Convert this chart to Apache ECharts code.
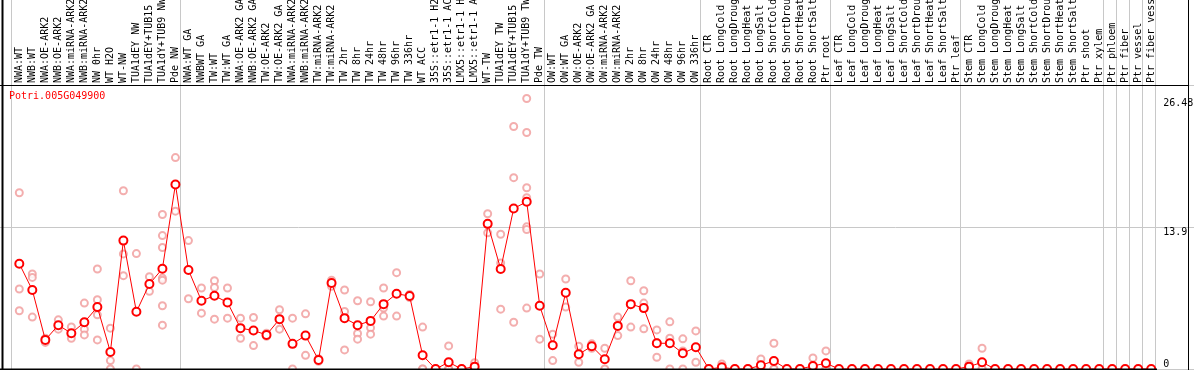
<!DOCTYPE html>
<html><head><meta charset="utf-8">
<script src="https://cdn.jsdelivr.net/npm/echarts@6/dist/echarts.min.js"></script>
<style>html,body{margin:0;padding:0;background:#fff}#c{width:1194px;height:370px}</style>
</head><body><div id="c"></div>
<script>
const geneName = 'Potri.005G049900';
const categories = [
 'NWA:WT','NWB:WT','NWA:OE-ARK2','NWB:OE-ARK2','NWA:miRNA-ARK2','NWB:miRNA-ARK2','NW 0hr','WT H2O','WT-NW','TUA1dEY NW','TUA1dEY+TUB15 NW','TUA1dY+TUB9 NW','Pde NW',
 'NWA:WT GA','NWBWT GA','TW:WT','TW:WT GA','NWA:OE-ARK2 GA','NWB:OE-ARK2 GA','TW:OE-ARK2','TW:OE-ARK2 GA','NWA:miRNA-ARK2','NWB:miRNA-ARK2','TW:miRNA-ARK2','TW:miRNA-ARK2',
 'TW 2hr','TW 8hr','TW 24hr','TW 48hr','TW 96hr','TW 336hr','WT ACC','35S::etr1-1 H2O','35S::etr1-1 ACC','LMX5::etr1-1 H2O','LMX5::etr1-1 ACC','WT-TW','TUA1dEY TW','TUA1dEY+TUB15 TW','TUA1dY+TUB9 TW','Pde TW',
 'OW:WT','OW:WT GA','OW:OE-ARK2','OW:OE-ARK2 GA','OW:miRNA-ARK2','OW:miRNA-ARK2','OW 2hr','OW 8hr','OW 24hr','OW 48hr','OW 96hr','OW 336hr',
 'Root CTR','Root LongCold','Root LongDrought','Root LongHeat','Root LongSalt','Root ShortCold','Root ShortDrought','Root ShortHeat','Root ShortSalt','Ptr root',
 'Leaf CTR','Leaf LongCold','Leaf LongDrought','Leaf LongHeat','Leaf LongSalt','Leaf ShortCold','Leaf ShortDrought','Leaf ShortHeat','Leaf ShortSalt','Ptr leaf',
 'Stem CTR','Stem LongCold','Stem LongDrought','Stem LongHeat','Stem LongSalt','Stem ShortCold','Stem ShortDrought','Stem ShortHeat','Stem ShortSalt','Ptr shoot',
 'Ptr xylem','Ptr phloem','Ptr fiber','Ptr vessel','Ptr fiber vessel'
];
const meanValues = [
 10.31,7.73,2.85,4.29,3.5,4.58,6.06,1.67,12.57,5.6,8.32,9.82,18.07,
 9.69,6.68,7.17,6.52,4.0,3.77,3.34,4.88,2.46,3.27,0.88,8.42,
 4.98,4.29,4.71,6.35,7.37,7.14,1.34,0,0.66,0,0.23,14.21,9.79,15.72,16.37,6.19,
 2.33,7.47,1.44,2.23,0.95,4.22,6.35,5.96,2.52,2.52,1.54,2.13,
 0,0.16,0,0,0.36,0.79,0,0,0.3,0.56,
 0,0,0,0,0,0,0,0,0,0,
 0.23,0.66,0,0,0,0,0,0,0,0,
 0,0,0,0,0
];
const replicates = [
 [17.26,7.83,5.7],[9.3,8.97,5.08],[3.0,2.75,2.6],[4.81,3.9],[4.12,3.01],[6.45,3.9,3.34],[9.79,6.78,5.3,2.85],[4.0,0.82,0],[17.45,11.27,9.14],[11.3,0],[9.04,7.6],[15.13,13.06,11.89,8.9,8.7,6.19,4.29],[20.7,15.45],
 [12.57,6.88],[7.93,5.47],[8.64,7.99,4.88],[7.93,4.98],[4.98,3.01],[5.04,2.29],[3.5,3.2],[5.8,3.9],[4.98,0],[5.4,1.34],[1.0,0.76],[8.7,8.1],
 [7.73,5.63,1.87],[6.68,3.47,2.92],[6.58,4.03,3.41],[7.93,5.96,5.18],[9.43,5.18],[7.3,7.0],[4.1,0,0],[0,0],[2.26,0,0],[0,0],[0.62,0,0],[15.2,13.33],[13.19,10.38,5.86],[23.74,18.73,4.58],[26.48,23.15,17.75,16.77,13.92,13.65,5.96],[9.3,2.92],
 [3.41,0.82],[8.81,6.06],[2.23,0.66],[2.46,2.03],[2.03,0],[5.08,3.27],[8.64,4.1],[7.66,6.45,3.93],[3.83,2.6,1.15],[4.62,3.01,0],[2.95,1.77,0],[3.73,0.66],
 [0,0],[0.5,0,0],[0,0],[0,0],[0.98,0,0],[2.52,0,0],[0,0],[0,0],[1.08,0,0],[1.77,0,0],
 [],[],[],[],[],[],[],[],[],[],
 [0.49,0.2,0],[2.03,0,0],[],[],[],[],[],[],[],[],
 [],[],[],[],[]
];
const groupStarts = [0,13,41,53,63,73,84,85,86,87];
const yTickLabels = [13.9, 26.48];
const yZeroLabel = [0];

const allVals = meanValues.concat(...replicates);
const dataMax = Math.max(...allVals);
const yMax = dataMax * 1.05;

const scatterData = [];
replicates.forEach((arr, i) => arr.forEach(v => scatterData.push([i, v])));

const font = 'DejaVu Sans Mono';
const gridL = 10.8, gridR = 38.3, markShift = 2;
const splitFn = (idx) => groupStarts.indexOf(idx) >= 0;
const gridLine = {color: '#c8c8c8', width: 1};
const labelFont = {fontSize: 10, fontFamily: font, color: '#000'};

const chart = echarts.init(document.getElementById('c'), null, {renderer: 'canvas'});
chart.setOption({
  animation: false,
  backgroundColor: '#fff',
  title: {text: geneName, left: 9, top: 91, padding: 0,
    textStyle: {color: '#ff0000', fontSize: 10, fontFamily: font, fontWeight: 'normal'}},
  grid: [
    {left: gridL + markShift, right: gridR - markShift, top: 85, bottom: 1, outerBoundsMode: 'none', containLabel: false},
    {left: gridL, right: gridR, top: 0, bottom: 1, outerBoundsMode: 'none', containLabel: false},
    {left: 0, right: 0, top: 85, bottom: 1, outerBoundsMode: 'none', containLabel: false}
  ],
  xAxis: [
    {gridIndex: 0, type: 'category', position: 'top', data: categories, boundaryGap: true,
      axisLine: {show: false}, axisTick: {show: false},
      axisLabel: Object.assign({rotate: 90, interval: 0, margin: 2, hideOverlap: false}, labelFont),
      splitLine: {show: false}},
    {gridIndex: 1, type: 'category', data: categories, boundaryGap: true,
      axisLine: {show: false}, axisTick: {show: false}, axisLabel: {show: false},
      splitLine: {show: true, interval: splitFn, lineStyle: gridLine}},
    {gridIndex: 2, type: 'value', show: false}
  ],
  yAxis: [
    {gridIndex: 0, type: 'value', position: 'right', min: 0, max: yMax,
      axisLine: {show: false}, axisTick: {show: false}, splitLine: {show: false},
      axisLabel: Object.assign({customValues: yTickLabels, margin: 5.5, verticalAlign: 'top', formatter: v => String(v)}, labelFont)},
    {gridIndex: 0, type: 'value', position: 'right', min: 0, max: yMax,
      axisLine: {show: false}, axisTick: {show: false}, splitLine: {show: false},
      axisLabel: Object.assign({customValues: yZeroLabel, margin: 5.5, verticalAlign: 'bottom', formatter: v => String(v)}, labelFont)},
    {gridIndex: 1, type: 'value', show: false},
    {gridIndex: 2, type: 'value', min: 0, max: yMax, interval: yMax / 2,
      axisLine: {show: false}, axisTick: {show: false}, axisLabel: {show: false},
      splitLine: {show: true, lineStyle: gridLine}}
  ],
  series: [
    {type: 'scatter', xAxisIndex: 0, yAxisIndex: 0, data: scatterData, symbol: 'emptyCircle', symbolSize: 7,
      itemStyle: {color: '#f09a9a', borderColor: '#f09a9a', borderWidth: 1}, z: 2, silent: true},
    {type: 'line', xAxisIndex: 0, yAxisIndex: 0, data: meanValues, symbol: 'emptyCircle', symbolSize: 8,
      lineStyle: {color: '#ff0000', width: 1}, itemStyle: {color: '#ff0000', borderColor: '#ff0000', borderWidth: 1.5},
      z: 3, silent: true, clip: false}
  ],
  graphic: [
    {type: 'line', shape: {x1: 2.5, y1: 0, x2: 2.5, y2: 370}, style: {stroke: '#000', lineWidth: 2}, z: 10},
    {type: 'line', shape: {x1: 0, y1: 85.5, x2: 1188, y2: 85.5}, style: {stroke: '#000', lineWidth: 1}, z: 10},
    {type: 'line', shape: {x1: 1188.5, y1: 0, x2: 1188.5, y2: 370}, style: {stroke: '#000', lineWidth: 1}, z: 10},
    {type: 'line', shape: {x1: 0, y1: 369.5, x2: 1157, y2: 369.5}, style: {stroke: '#000', lineWidth: 2}, z: 10}
  ]
});
</script></body></html>
